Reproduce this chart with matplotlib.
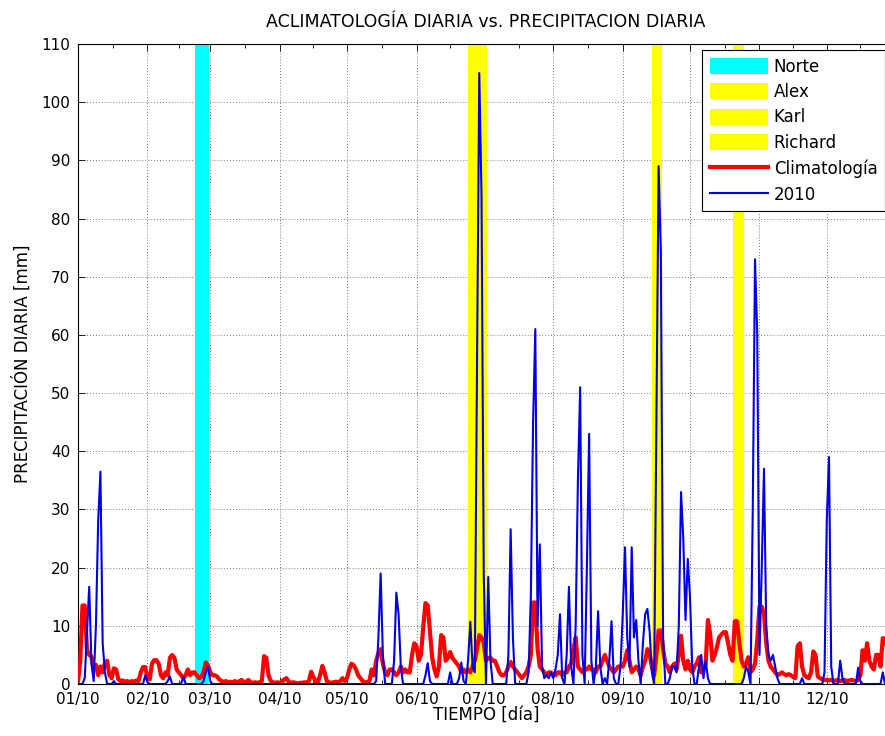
import numpy as np
import matplotlib
matplotlib.use("Agg")
import matplotlib.pyplot as plt

plt.rcParams['font.family'] = ['DejaVu Sans']

# ---------------- data ----------------
month_labels = ['01/10', '02/10', '03/10', '04/10', '05/10', '06/10',
                '07/10', '08/10', '09/10', '10/10', '11/10', '12/10']
month_start_day = [1, 32, 60, 91, 121, 152, 182, 213, 244, 274, 305, 335]

storm_names = ['Norte', 'Alex', 'Karl', 'Richard']
storm_start = [53, 175, 257, 293]
storm_end = [59.5, 183.4, 261.5, 298.2]
storm_colors = ['#00ffff', '#ffff00', '#ffff00', '#ffff00']

# Climatologia diaria (mm), por mes
climatologia = (
    # Jan
    [0.5, 4, 13.5, 13.5, 6, 5, 4.7, 2.5, 3.3, 1.5, 3, 2, 3.6, 4, 1.5, 1, 2.7, 2.5,
     0.8, 0.5, 0.6, 0.4, 0.5, 0.3, 0.5, 0.4, 0.6, 0.5, 2, 2.9, 2.9]
    # Feb
    + [1, 0.8, 3.5, 4.1, 4.1, 3.5, 1.5, 1, 2, 1.5, 4.5, 5, 4.5, 2.5, 2, 1.5, 1, 1.5,
       2.5, 1.5, 2, 2, 1.5, 1, 1.2, 2, 3.7, 3.2]
    # Mar
    + [2, 1.5, 1.5, 1.3, 0.8, 0.5, 0.4, 0.5, 0.3, 0.4, 0.3, 0.5, 0.3, 0.5, 0.7, 0.3,
       0.4, 0.7, 0.3, 0.2, 0.3, 0.2, 0.3, 0.5, 4.8, 4.5, 1.5, 0.5, 0.3, 0.2, 0.3]
    # Apr
    + [0.2, 0.4, 0.8, 1, 0.4, 0.2, 0.3, 0.2, 0.1, 0.2, 0.2, 0.3, 0.2, 0.5, 2.1, 1.2,
       0.5, 0.3, 1.5, 3.1, 2, 0.5, 0.3, 0.2, 0.3, 0.4, 0.3, 0.5, 1, 0.5]
    # May
    + [1, 2.5, 3.5, 3.2, 2.5, 1.5, 1, 0.5, 0.3, 0.3, 0.5, 2.5, 1.5, 4, 5.3, 6, 3.5, 2,
       1.5, 2.5, 2.5, 2, 1.5, 2, 3, 2, 2.5, 2, 2, 5, 7]
    # Jun
    + [6.5, 4, 5, 9.8, 13.9, 13.5, 9, 4.5, 2.5, 1.3, 3, 8.4, 8, 4, 4.5, 5.5, 4.5, 4,
       3.5, 3, 2, 2.5, 2, 2.5, 2, 3, 4, 6, 8.4, 8]
    # Jul
    + [7, 4, 4.5, 4.5, 4, 4, 3, 2, 1.5, 1.5, 2, 3, 3.8, 3, 2.5, 2, 1.5, 1, 1.5, 2, 3,
       5, 14, 14, 6, 3, 2.5, 2, 1.5, 2, 2]
    # Aug
    + [1.5, 1.5, 2, 2, 1.5, 2, 2, 3, 3.5, 6, 8, 3, 2.5, 2, 2.5, 2.5, 3, 2.5, 2.5, 2,
       3, 3, 4, 5, 4, 3, 2.5, 2, 2.5, 3, 3]
    # Sep
    + [3, 4, 5.8, 4, 2, 2.5, 3, 2.5, 1.5, 3, 4, 6, 5, 3, 1.5, 5, 9.2, 9.2, 6, 3.5, 3,
       2, 3, 3.5, 2.5, 5, 8.3, 4, 2.5, 4]
    # Oct
    + [2.5, 2, 3, 3.5, 4.6, 2, 2.5, 3.5, 11, 8.6, 4, 5, 6.3, 8, 8.5, 8.9, 8.9, 7, 5,
       4, 10.8, 10.8, 7, 4, 3, 3.5, 4.6, 2, 2.5, 3.5, 7.6]
    # Nov
    + [13.3, 13.3, 12, 7, 4, 3, 2.5, 2, 1.5, 1.7, 2, 1.7, 1.5, 1.7, 1.5, 1.2, 1, 6.5,
       7, 3, 1.5, 1.2, 1, 2, 5.6, 5, 1.3, 1, 0.8, 0.7]
    # Dec
    + [0.7, 0.6, 0.7, 0.5, 0.6, 0.7, 0.5, 0.6, 0.7, 0.5, 0.6, 0.7, 0.6, 0.5, 0.7, 1.5,
       5.8, 4, 7, 4, 3, 2.5, 5, 5, 3, 7.9, 7.7, 6, 4, 6, 7.5]
)

# Precipitacion diaria 2010 (mm), por mes
precip_2010 = (
    # Jan
    [0, 0, 0, 1, 9, 16.7, 3.5, 0.5, 10, 28, 36.5, 7, 2, 0, 0, 0, 0.5, 0, 0, 0, 0, 0,
     0, 0, 0, 0, 0, 0, 0, 0, 1.5]
    # Feb
    + [0.3, 0, 0, 0, 0, 0, 0, 0, 0, 0.5, 1.3, 0, 0, 0, 0, 0, 1.3, 0, 0, 0, 0, 0, 0, 0,
       0, 0.5, 2, 3]
    # Mar
    + [0.5, 0, 0, 0, 0, 0, 0, 0, 0, 0, 0, 0, 0, 0, 0, 0, 0, 0, 0, 0, 0, 0, 0, 0, 0, 0,
       0, 0, 0, 0, 0]
    # Apr
    + [0, 0, 0, 0, 0, 0, 0, 0, 0, 0, 0, 0, 0, 0, 0, 0, 0, 0, 0, 0, 0, 0, 0, 0, 0, 0,
       0, 0, 0, 0]
    # May
    + [0, 0, 0, 0, 0, 0, 0, 0, 0, 0, 0, 0, 0, 0.5, 8, 19, 5, 0, 0, 0, 0, 4, 15.7, 12,
       3, 0, 0, 0, 0, 0, 0]
    # Jun
    + [0, 0, 0, 0, 1.5, 3.6, 0.5, 0, 0, 0, 0, 0, 0, 0, 0, 2, 0, 0, 0, 1, 3.7, 0.5, 0,
       4, 10.7, 3, 2, 55, 105, 84]
    # Jul
    + [19, 0, 18.4, 4, 0, 0, 0, 0, 0, 0, 0, 5, 26.6, 8, 0, 0, 0, 0, 0, 0, 2, 15, 45,
       61, 10, 24, 3, 1, 1.5, 1, 2]
    # Aug
    + [1, 2.5, 5, 12, 1, 0, 5, 16.7, 3, 0, 10, 35, 51, 5, 0, 20, 43, 4, 0, 3, 12.5, 3,
       0, 1, 0, 4, 10.8, 1, 0, 0, 3]
    # Sep
    + [12, 23.5, 8, 3, 23.5, 8, 11, 4, 0, 7, 12, 12.9, 9, 2, 0, 45, 89, 74, 8, 0, 0,
       1, 3, 3, 2, 10, 33, 25, 11, 21.5]
    # Oct
    + [15, 3, 0, 0, 3, 5, 1, 4, 1, 0, 0, 0, 0, 0, 0, 0, 0, 0, 0, 0, 0, 0, 0, 0, 1, 3,
       2, 0, 30, 73, 60]
    # Nov
    + [5, 20, 37, 10, 5, 4, 5, 3, 1, 0, 0, 0, 0, 0, 0, 0, 0, 0, 0, 1, 0, 0, 0, 0, 0,
       0, 0, 0, 0, 2]
    # Dec
    + [28, 39, 3, 0, 0, 0, 4, 1, 0, 0, 0, 0, 0, 0, 2.8, 0.5, 0, 0, 0, 0, 0, 0, 0, 0,
       0, 2, 0, 0, 0, 0, 0]
)

days = np.arange(1, len(climatologia) + 1)

# ---------------- figure ----------------
fig = plt.figure(figsize=(8.85, 7.36), dpi=100)
ax = fig.add_axes([78 / 885, 52 / 736, (894 - 78) / 885, 640 / 736])

handles = []
for name, s, e, c in zip(storm_names, storm_start, storm_end, storm_colors):
    h = ax.axvspan(s, e, color=c, lw=0, zorder=1, label=name)
    handles.append(h)

l1, = ax.plot(days, climatologia, color='#ff0000', lw=3.0, zorder=3,
              label='Climatología')
l2, = ax.plot(days, precip_2010, color='#0000e6', lw=1.5, zorder=4, label='2010')
handles += [l1, l2]

ax.set_xlim(1, 365)
ax.set_ylim(0, 110)
ax.set_yticks(np.arange(0, 111, 10))
ax.set_xticks(month_start_day)
ax.set_xticklabels(month_labels)
mids = [(a + b) / 2 for a, b in zip(month_start_day, month_start_day[1:] + [365])]
ax.set_xticks(mids, minor=True)

ax.set_axisbelow(True)
ax.grid(True, which='major', linestyle=(0, (1, 2.5)), color='0.3', lw=0.6)
ax.tick_params(which='both', direction='in', top=True, right=True,
               labelsize=11, width=0.6)
ax.tick_params(axis='x', which='major', pad=6)
ax.tick_params(axis='y', which='major', pad=5.5)
ax.tick_params(which='major', length=5)
ax.tick_params(which='minor', length=3)
for sp in ax.spines.values():
    sp.set_linewidth(0.8)

ax.set_title('ACLIMATOLOGÍA DIARIA vs. PRECIPITACION DIARIA', fontsize=12.5, pad=12)
ax.set_xlabel('TIEMPO [día]', fontsize=12, labelpad=-1)
ax.set_ylabel('PRECIPITACIÓN DIARIA [mm]', fontsize=12, labelpad=7)

leg = ax.legend(handles=handles, loc='upper left',
                bbox_to_anchor=((702 - 78) / 816, (684 - 50) / 640),
                borderaxespad=0, fancybox=False, framealpha=1, edgecolor='k',
                fontsize=12, handlelength=3.5, handleheight=1.1,
                labelspacing=0.45, handletextpad=0.35, borderpad=0.45)
leg.get_frame().set_linewidth(0.8)

fig.savefig('out.png', dpi=100)
